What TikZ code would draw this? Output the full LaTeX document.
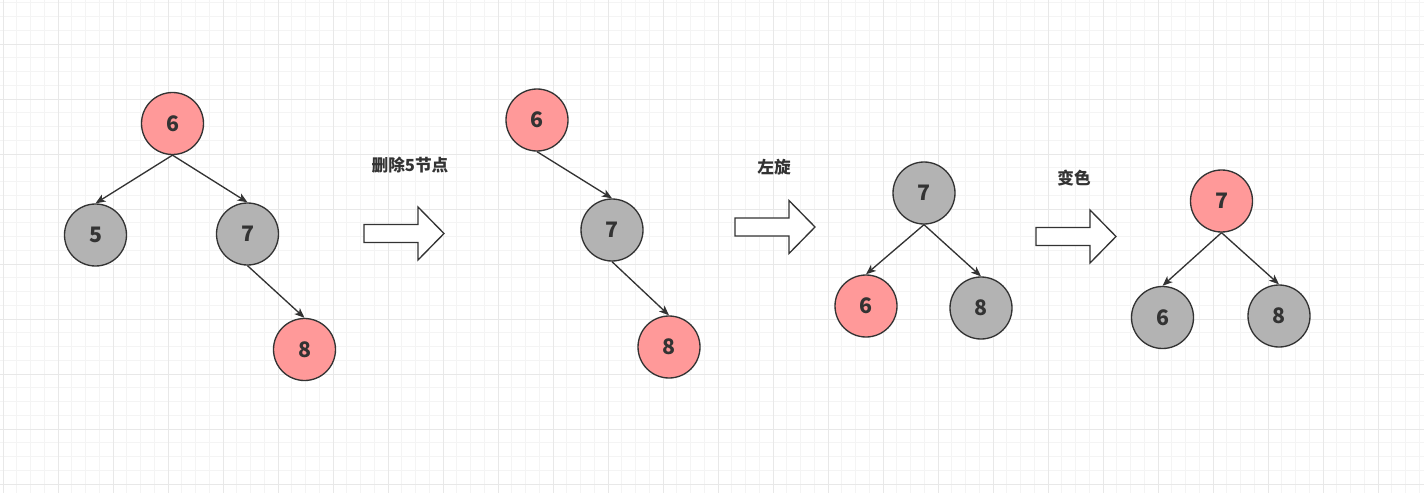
\documentclass[tikz,border=0pt]{standalone}
\usepackage{fontspec}
\setmainfont{Noto Sans CJK SC}
\usepackage{tikz}
\usetikzlibrary{arrows.meta,positioning,calc}
\definecolor{nodeRed}{RGB}{255,153,153}
\definecolor{nodeGray}{RGB}{179,179,179}
\definecolor{lineDark}{RGB}{51,51,51}
\definecolor{gridMinor}{RGB}{244,244,244}
\definecolor{gridMajor}{RGB}{232,232,232}

\begin{document}
\begin{tikzpicture}[
  x=0.75pt,y=-0.75pt,
  rbnode/.style={circle,draw=lineDark,line width=1pt,minimum size=46.5pt,inner sep=0pt,
                 text=lineDark,font=\fontsize{16}{19}\selectfont\bfseries},
  rednode/.style={rbnode,fill=nodeRed},
  graynode/.style={rbnode,fill=nodeGray},
  edge/.style={-{Stealth[length=7.5pt,width=6pt,inset=2pt]},line width=1pt,lineDark},
  steplabel/.style={text=lineDark,font=\fontsize{12.5}{15}\selectfont\bfseries,inner sep=0pt},
  bigarrow/.style={draw=lineDark,fill=white,line width=1pt,line join=miter}
]
  \useasboundingbox (0,0) rectangle (1424,493);
  % grid
  \foreach \k in {0,...,103}
    \draw[gridMinor,line width=0.75pt] (3+13.75*\k,0) -- (3+13.75*\k,493);
  \foreach \k in {-4,...,31}
    \draw[gridMinor,line width=0.75pt] (0,429-13.75*\k) -- (1424,429-13.75*\k);
  \foreach \k in {0,...,25}
    \draw[gridMajor,line width=0.75pt] (3+55*\k,0) -- (3+55*\k,493);
  \foreach \k in {-1,...,7}
    \draw[gridMajor,line width=0.75pt] (0,429-55*\k) -- (1424,429-55*\k);

  % tree before
  \node[rednode]  (a6) at (172.5,123.5) {6};
  \node[graynode] (a5) at (95.5,235)    {5};
  \node[graynode] (a7) at (247.5,234)   {7};
  \node[rednode]  (a8) at (304.5,349.5) {8};
  \draw[edge] (a6.south) -- (a5.north);
  \draw[edge] (a6.south) -- (a7.north);
  \draw[edge] (a7.south) -- (a8.north);

  % after delete
  \node[rednode]  (b6) at (537,120) {6};
  \node[graynode] (b7) at (612,230) {7};
  \node[rednode]  (b8) at (669,347) {8};
  \draw[edge] (b6.south) -- (b7.north);
  \draw[edge] (b7.south) -- (b8.north);

  % after rotate
  \node[graynode] (c7) at (924,193)   {7};
  \node[rednode]  (c6) at (866,306)   {6};
  \node[graynode] (c8) at (981,308)   {8};
  \draw[edge] (c7.south) -- (c6.north);
  \draw[edge] (c7.south) -- (c8.north);

  % after recolor
  \node[rednode]  (d7) at (1221.5,201) {7};
  \node[graynode] (d6) at (1162.5,317.5) {6};
  \node[graynode] (d8) at (1279,316)   {8};
  \draw[edge] (d7.south) -- (d6.north);
  \draw[edge] (d7.south) -- (d8.north);

  % step arrows
  \foreach \x/\y in {364/233.5,735/227,1036/236.5}
    \draw[bigarrow] (\x,\y) ++(0,-9) -- ++(54,0) -- ++(0,-17.5) -- ++(26,26.5)
      -- ++(-26,26.5) -- ++(0,-17.5) -- ++(-54,0) -- cycle;
  \node[steplabel] (lbl1) at (410,165.5) {删除5节点};
  \node[steplabel] (lbl2) at (774,167)   {左旋};
  \node[steplabel] (lbl3) at (1074,178)  {变色};
\end{tikzpicture}
\end{document}
